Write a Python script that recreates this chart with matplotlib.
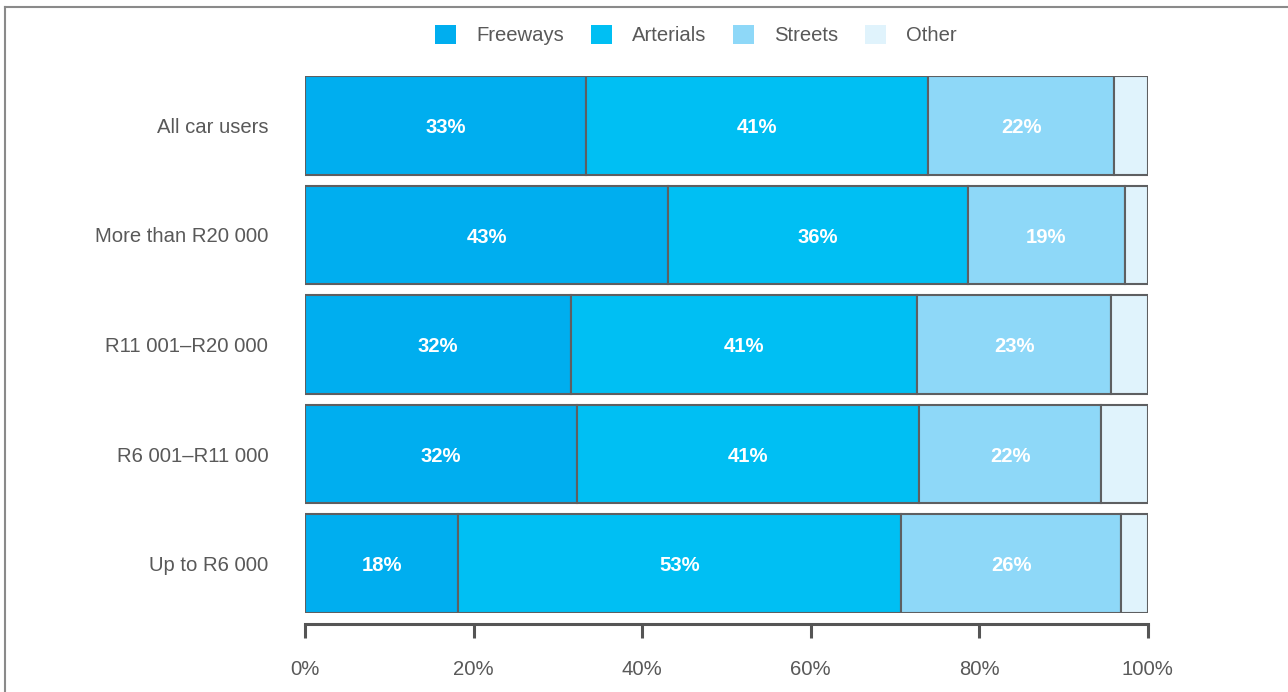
import matplotlib
matplotlib.use("Agg")
import matplotlib.pyplot as plt
from matplotlib.patches import Patch
from matplotlib.lines import Line2D

plt.rcParams['font.family'] = ['Liberation Sans', 'DejaVu Sans']

# data (shares in %)
categories = ['All car users', 'More than R20 000', 'R11 001\u2013R20 000',
              'R6 001\u2013R11 000', 'Up to R6 000']
series = ['Freeways', 'Arterials', 'Streets', 'Other']
freeways = [33.4, 43.1, 31.6, 32.3, 18.2]
arterials = [40.6, 35.6, 41.1, 40.6, 52.6]
streets = [22.0, 18.6, 23.0, 21.6, 26.0]
other = [4.0, 2.7, 4.3, 5.5, 3.2]
values = [freeways, arterials, streets, other]
show_label = [True, True, True, False]

colors = ['#00AEEF', '#00BFF3', '#8ED8F8', '#E0F3FC']
edge = '#5e5f61'
text_gray = '#595959'
fs = 14.6

W, H = 1288, 692
fig = plt.figure(figsize=(W / 100, H / 100), dpi=100)
ax = fig.add_axes([305 / W, 1 - 613 / H, (1147.5 - 305) / W, (613 - 76) / H])

y = list(range(len(categories)))
left = [0.0] * len(categories)
for vals, col, lab in zip(values, colors, show_label):
    ax.barh(y, vals, left=left, height=0.9, color=col, edgecolor=edge,
            linewidth=1.5, zorder=2)
    if lab:
        for i, v in enumerate(vals):
            ax.text(left[i] + v / 2, i + 0.02, f"{round(v)}%", ha='center', va='center',
                    color='white', fontsize=fs, fontweight='bold', zorder=3)
    left = [l + v for l, v in zip(left, vals)]

ax.set_xlim(0, 100)
ax.set_ylim(4.45, -0.45)
ax.set_yticks(y)
ax.set_yticklabels(categories)
ax.set_xticks([0, 20, 40, 60, 80, 100])
ax.set_xticklabels(['0%', '20%', '40%', '60%', '80%', '100%'])

for s in ['top', 'right', 'left']:
    ax.spines[s].set_visible(False)
ax.spines['bottom'].set_position(('outward', 8))
ax.spines['bottom'].set_color('#555555')
ax.spines['bottom'].set_linewidth(2.2)
ax.tick_params(axis='x', direction='out', length=10, width=2.2, color='#555555',
               pad=16, labelsize=fs, labelcolor=text_gray)
ax.tick_params(axis='y', length=0, pad=26.5, labelsize=fs, labelcolor=text_gray)

handles = [Patch(facecolor=c, edgecolor='none') for c in colors]
fig.legend(handles, series, loc='center', bbox_to_anchor=(696 / W, 1 - 35 / H),
           ncol=4, frameon=False, fontsize=fs, labelcolor=text_gray,
           handlelength=1.05, handleheight=1.05, handletextpad=1.0,
           columnspacing=1.3)

# thin frame on the left and top of the picture
fig.add_artist(Line2D([4.5 / W, 4.5 / W], [0, 1 - 6.5 / H], transform=fig.transFigure,
                      color='#8a8a8a', linewidth=1.5))
fig.add_artist(Line2D([4.5 / W, 1], [1 - 6.5 / H, 1 - 6.5 / H], transform=fig.transFigure,
                      color='#8a8a8a', linewidth=1.5))

fig.savefig('out.png', dpi=100)
